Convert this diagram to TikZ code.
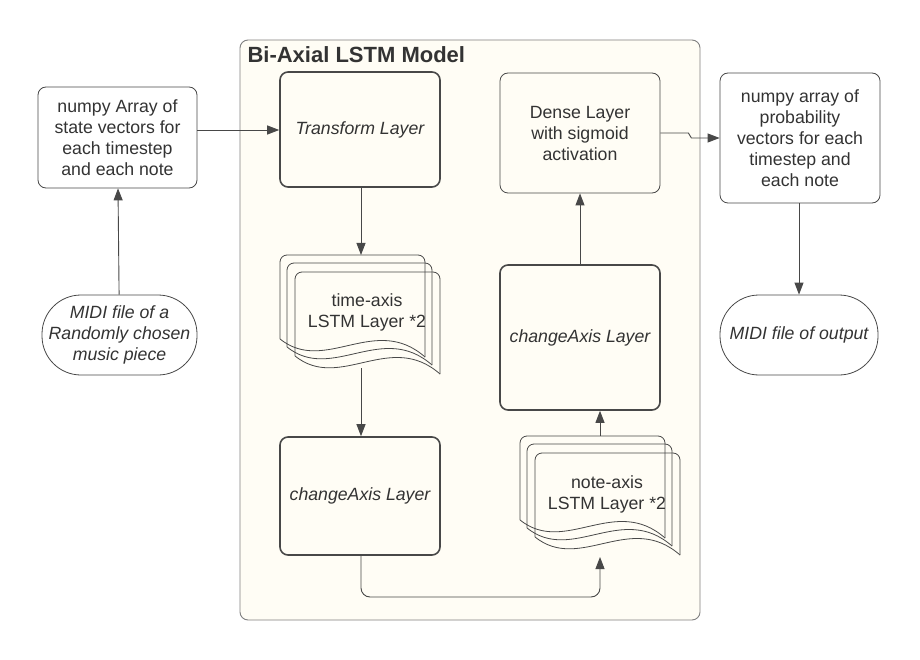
\documentclass[tikz,border=0pt]{standalone}
\usepackage{fontspec}
\setmainfont{Liberation Sans}
\usepackage{xcolor}
\definecolor{linegray}{RGB}{72, 72, 72}
\definecolor{textgray}{RGB}{51, 51, 51}
\definecolor{framegray}{RGB}{128, 128, 128}
\definecolor{modelcream}{RGB}{255, 253, 245}
\usepackage{tikz}
\usetikzlibrary{arrows.meta, positioning}

% one page of a stacked document shape, top-left corner at (#1,#2)
\newcommand{\docpage}[2]{%
    \draw[linegray, line width=0.8pt, rounded corners=7pt] (#1,#2+84) -- (#1,#2) -- (#1+145,#2) -- (#1+145,#2+102);
    \draw[linegray, line width=0.8pt] (#1+145,#2+102) .. controls (#1+95,#2+58) and (#1+45,#2+120) .. (#1,#2+84);
}

\tikzset{
    box/.style={draw=linegray, line width=0.8pt, rounded corners=8pt, align=center, text=textgray,
        inner sep=0pt, font=\fontsize{17.7}{21}\selectfont},
    layer/.style={box, line width=1.6pt},
    terminal/.style={box, rounded corners=39pt, font=\fontsize{17.7}{21}\selectfont\itshape},
    doctext/.style={align=center, text=textgray, font=\fontsize{17.7}{21}\selectfont},
    flow/.style={draw=linegray, line width=0.9pt, -{Triangle[length=12pt, width=9pt]}}
}

\begin{document}
\begin{tikzpicture}[x=1pt, y=-1pt]
    \useasboundingbox (0,0) rectangle (920,660);
    \fill[white] (0,0) rectangle (920,660);

    % model container
    \filldraw[fill=modelcream, draw=framegray, line width=0.9pt, rounded corners=8pt] (240,40) rectangle (700,620);
    \node[anchor=base west, text=textgray, font=\fontsize{22}{26}\selectfont\bfseries] (title) at (244,63) {Bi-Axial LSTM Model};

    % input side
    \node[box, minimum width=159pt, minimum height=101pt] (inArray) at (117.5,137.5)
        {numpy Array of\\state vectors for\\each timestep\\and each note};
    \node[terminal, minimum width=155pt, minimum height=80pt] (inMidi) at (119.5,335)
        {MIDI file of a\\Randomly chosen\\music piece};

    % layers
    \node[layer, minimum width=160pt, minimum height=115pt] (transform) at (360,129.5) {\itshape Transform Layer};
    \node[layer, minimum width=160pt, minimum height=118pt] (changeL) at (360,496) {\itshape changeAxis Layer};
    \node[layer, minimum width=160pt, minimum height=145pt] (changeR) at (580,337.5) {\itshape changeAxis Layer};
    \node[box, minimum width=160pt, minimum height=120pt] (dense) at (580,133)
        {Dense Layer\\with sigmoid\\activation};

    % stacked LSTM layers
    \foreach \dx/\dy in {0/0, 7/8, 15/17} {
        \docpage{280+\dx}{255+\dy}
        \docpage{520+\dx}{436+\dy}
    }
    \node[doctext] (timeLstm) at (367,312) {time-axis\\LSTM Layer *2};
    \node[doctext] (noteLstm) at (607,494) {note-axis\\LSTM Layer *2};
    \coordinate (timeTop) at (361,255);
    \coordinate (timeBot) at (361,368);
    \coordinate (noteTop) at (600,436);
    \coordinate (noteBot) at (600,557);

    % output side
    \node[box, minimum width=160pt, minimum height=130pt] (outArray) at (800,138)
        {numpy array of\\probability\\vectors for each\\timestep and\\each note};
    \node[terminal, minimum width=158pt, minimum height=80pt] (outMidi) at (799,335) {MIDI file of output};

    % connectors
    \draw[flow] (inMidi) -- (inArray);
    \draw[flow] (inArray.east |- 0,130) -- (transform.west |- 0,130);
    \draw[flow] (transform.south -| timeTop) -- (timeTop);
    \draw[flow] (timeBot) -- (changeL.north -| timeBot);
    \draw[flow, rounded corners=9pt] (changeL.south -| timeBot) -- (361,597) -- (600,597) -- (noteBot);
    \draw[flow] (noteTop) -- (changeR.south -| noteTop);
    \draw[flow] (changeR) -- (dense);
    \draw[flow] (dense.east) -- ++(28,0) -- ++(3,5) -- (outArray.west);
    \draw[flow] (outArray.south -| outMidi) -- (outMidi);
\end{tikzpicture}
\end{document}
